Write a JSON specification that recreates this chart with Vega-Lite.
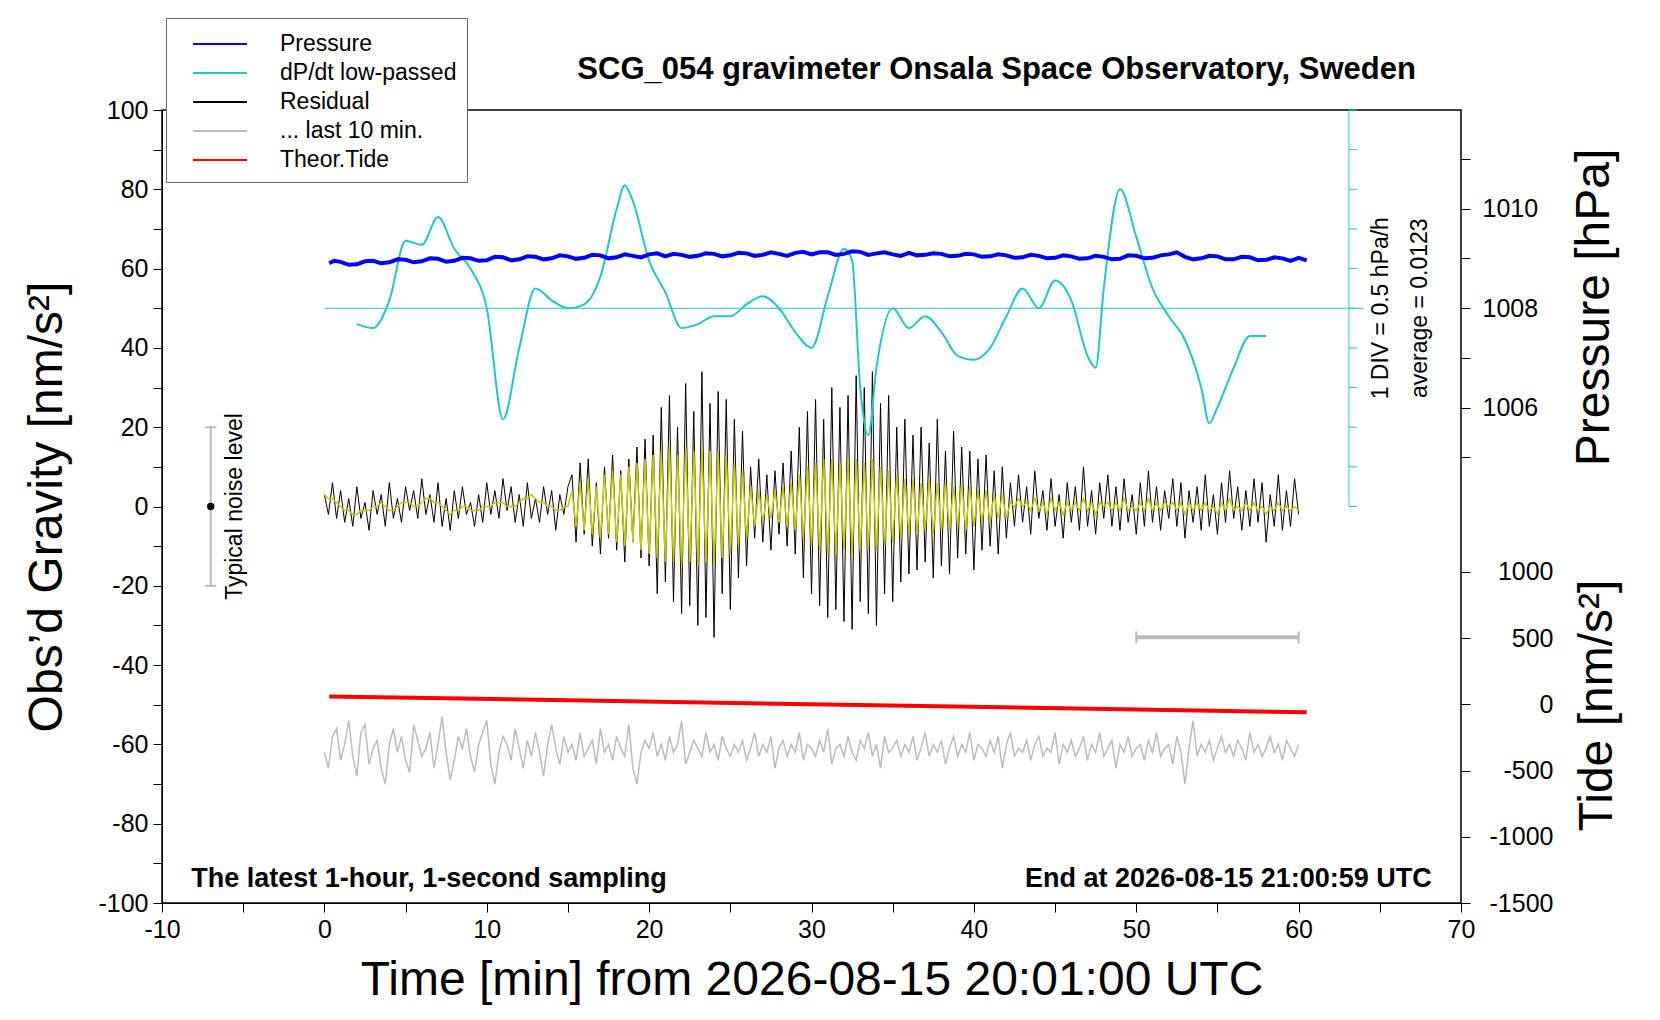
{
  "$schema": "https://vega.github.io/schema/vega-lite/v6.json",
  "autosize": "none",
  "width": 1299,
  "height": 793,
  "padding": {"left": 162, "top": 110, "right": 199, "bottom": 117},
  "background": "white",
  "config": {
    "font": "Liberation Sans",
    "view": {"stroke": "black", "strokeWidth": 1.5},
    "axis": {"grid": false, "labelFlush": false, "labelFontSize": 25, "labelColor": "black", "titleColor": "black", "titleFontWeight": "normal", "titleFontSize": 48, "domainColor": "black", "tickColor": "black", "tickSize": 9, "labelPadding": 5},
    "legend": {"orient": "none", "legendX": 4, "legendY": -92, "fillColor": "white", "strokeColor": "#666", "padding": 10, "symbolOffset": 28, "labelFontSize": 23, "labelColor": "black", "symbolType": "M-1.8,0H1.8", "symbolSize": 900, "symbolStrokeWidth": 2, "rowPadding": 1, "labelOffset": 44, "labelLimit": 400}
  },
  "datasets": {
    "main": [
      {"t":0,"r":3,"f":3,"g":-62},{"t":0.25,"r":-2,"f":2,"g":-66},{"t":0.5,"r":6,"f":2,"g":-58},{"t":0.75,"r":-3,"f":1,"g":-56},
      {"t":1,"r":4,"f":0,"g":-64},{"t":1.25,"r":-4,"f":-1,"g":-60},{"t":1.5,"r":2,"f":-1,"g":-54},{"t":1.75,"r":-5,"f":-2,"g":-63},
      {"t":2,"r":5,"f":-2,"g":-68},{"t":2.25,"r":-3,"f":-1,"g":-57},{"t":2.5,"r":1,"f":-1,"g":-55},{"t":2.75,"r":-6,"f":-1,"g":-65},
      {"t":3,"r":4,"f":0,"g":-61},{"t":3.25,"r":-2,"f":0,"g":-59},{"t":3.5,"r":3,"f":1,"g":-66},{"t":3.75,"r":-5,"f":0,"g":-70},
      {"t":4,"r":6,"f":-1,"g":-60},{"t":4.25,"r":-3,"f":-1,"g":-56},{"t":4.5,"r":2,"f":0,"g":-62},{"t":4.75,"r":-4,"f":1,"g":-58},
      {"t":5,"r":5,"f":1,"g":-64},{"t":5.25,"r":-1,"f":1,"g":-67},{"t":5.5,"r":4,"f":0,"g":-55},{"t":5.75,"r":-3,"f":0,"g":-59},
      {"t":6,"r":7,"f":1,"g":-63},{"t":6.25,"r":-2,"f":2,"g":-61},{"t":6.5,"r":3,"f":2,"g":-57},{"t":6.75,"r":-4,"f":1,"g":-66},
      {"t":7,"r":6,"f":1,"g":-60},{"t":7.25,"r":-5,"f":0,"g":-53},{"t":7.5,"r":2,"f":-1,"g":-62},{"t":7.75,"r":-6,"f":-2,"g":-69},
      {"t":8,"r":4,"f":-1,"g":-64},{"t":8.25,"r":-3,"f":-1,"g":-58},{"t":8.5,"r":5,"f":0,"g":-61},{"t":8.75,"r":-2,"f":0,"g":-56},
      {"t":9,"r":1,"f":-1,"g":-63},{"t":9.25,"r":-5,"f":-1,"g":-67},{"t":9.5,"r":3,"f":-1,"g":-60},{"t":9.75,"r":-4,"f":0,"g":-57},
      {"t":10,"r":6,"f":0,"g":-54},{"t":10.25,"r":-2,"f":0,"g":-65},{"t":10.5,"r":4,"f":1,"g":-70},{"t":10.75,"r":-3,"f":1,"g":-62},
      {"t":11,"r":7,"f":1,"g":-58},{"t":11.25,"r":-1,"f":0,"g":-60},{"t":11.5,"r":5,"f":0,"g":-64},{"t":11.75,"r":-4,"f":0,"g":-56},
      {"t":12,"r":3,"f":1,"g":-61},{"t":12.25,"r":-5,"f":2,"g":-66},{"t":12.5,"r":6,"f":2,"g":-59},{"t":12.75,"r":-3,"f":3,"g":-63},
      {"t":13,"r":2,"f":2,"g":-57},{"t":13.25,"r":-4,"f":1,"g":-62},{"t":13.5,"r":5,"f":1,"g":-68},{"t":13.75,"r":-2,"f":0,"g":-60},
      {"t":14,"r":4,"f":0,"g":-55},{"t":14.25,"r":-6,"f":-1,"g":-61},{"t":14.5,"r":3,"f":-1,"g":-65},{"t":14.75,"r":-2,"f":0,"g":-58},
      {"t":15,"r":5,"f":0,"g":-62},
      {"t":15.25,"r":8,"f":4,"g":-60},{"t":15.5,"r":-9,"f":-5,"g":-64},{"t":15.75,"r":11,"f":6,"g":-57},{"t":16,"r":-7,"f":-6,"g":-63},
      {"t":16.25,"r":12,"f":7,"g":-61},{"t":16.5,"r":-10,"f":-7,"g":-59},{"t":16.75,"r":6,"f":5,"g":-65},{"t":17,"r":-12,"f":-8,"g":-56},
      {"t":17.25,"r":10,"f":8,"g":-62},{"t":17.5,"r":-8,"f":-7,"g":-60},{"t":17.75,"r":13,"f":9,"g":-64},{"t":18,"r":-11,"f":-9,"g":-58},
      {"t":18.25,"r":9,"f":8,"g":-61},{"t":18.5,"r":-14,"f":-10,"g":-63},{"t":18.75,"r":12,"f":10,"g":-55},{"t":19,"r":-9,"f":-9,"g":-66},
      {"t":19.25,"r":15,"f":11,"g":-70},{"t":19.5,"r":-13,"f":-11,"g":-62},{"t":19.75,"r":17,"f":12,"g":-59},{"t":20,"r":-15,"f":-12,"g":-61},
      {"t":20.25,"r":18,"f":13,"g":-57},{"t":20.5,"r":-22,"f":-13,"g":-63},{"t":20.75,"r":25,"f":14,"g":-60},{"t":21,"r":-19,"f":-14,"g":-64},
      {"t":21.25,"r":28,"f":15,"g":-58},{"t":21.5,"r":-24,"f":-14,"g":-62},{"t":21.75,"r":20,"f":13,"g":-60},{"t":22,"r":-27,"f":-15,"g":-54},
      {"t":22.25,"r":31,"f":15,"g":-65},{"t":22.5,"r":-25,"f":-14,"g":-62},{"t":22.75,"r":24,"f":14,"g":-59},{"t":23,"r":-30,"f":-15,"g":-61},
      {"t":23.25,"r":34,"f":15,"g":-63},{"t":23.5,"r":-28,"f":-14,"g":-57},{"t":23.75,"r":26,"f":14,"g":-62},{"t":24,"r":-33,"f":-15,"g":-60},
      {"t":24.25,"r":29,"f":14,"g":-64},{"t":24.5,"r":-22,"f":-13,"g":-58},{"t":24.75,"r":27,"f":13,"g":-61},{"t":25,"r":-26,"f":-12,"g":-63},
      {"t":25.25,"r":22,"f":11,"g":-60},{"t":25.5,"r":-18,"f":-10,"g":-62},{"t":25.75,"r":19,"f":9,"g":-59},{"t":26,"r":-15,"f":-8,"g":-64},
      {"t":26.25,"r":10,"f":5,"g":-61},{"t":26.5,"r":-8,"f":-5,"g":-57},{"t":26.75,"r":12,"f":4,"g":-63},{"t":27,"r":-9,"f":-4,"g":-60},
      {"t":27.25,"r":8,"f":3,"g":-62},{"t":27.5,"r":-11,"f":-3,"g":-58},{"t":27.75,"r":9,"f":4,"g":-66},{"t":28,"r":-7,"f":-4,"g":-61},
      {"t":28.25,"r":11,"f":5,"g":-59},{"t":28.5,"r":-10,"f":-5,"g":-63},{"t":28.75,"r":14,"f":6,"g":-60},{"t":29,"r":-12,"f":-6,"g":-62},
      {"t":29.25,"r":20,"f":8,"g":-57},{"t":29.5,"r":-18,"f":-8,"g":-64},{"t":29.75,"r":24,"f":10,"g":-60},{"t":30,"r":-22,"f":-10,"g":-61},
      {"t":30.25,"r":27,"f":11,"g":-63},{"t":30.5,"r":-25,"f":-11,"g":-59},{"t":30.75,"r":22,"f":12,"g":-62},{"t":31,"r":-28,"f":-12,"g":-56},
      {"t":31.25,"r":30,"f":12,"g":-65},{"t":31.5,"r":-26,"f":-12,"g":-61},{"t":31.75,"r":25,"f":11,"g":-60},{"t":32,"r":-29,"f":-11,"g":-63},
      {"t":32.25,"r":28,"f":12,"g":-58},{"t":32.5,"r":-31,"f":-12,"g":-62},{"t":32.75,"r":33,"f":12,"g":-64},{"t":33,"r":-24,"f":-11,"g":-59},
      {"t":33.25,"r":30,"f":11,"g":-61},{"t":33.5,"r":-27,"f":-11,"g":-57},{"t":33.75,"r":34,"f":12,"g":-63},{"t":34,"r":-30,"f":-11,"g":-60},
      {"t":34.25,"r":26,"f":10,"g":-66},{"t":34.5,"r":-22,"f":-10,"g":-58},{"t":34.75,"r":28,"f":9,"g":-62},{"t":35,"r":-24,"f":-9,"g":-61},
      {"t":35.25,"r":20,"f":8,"g":-59},{"t":35.5,"r":-19,"f":-8,"g":-63},{"t":35.75,"r":22,"f":7,"g":-60},{"t":36,"r":-17,"f":-7,"g":-62},
      {"t":36.25,"r":18,"f":7,"g":-58},{"t":36.5,"r":-16,"f":-7,"g":-64},{"t":36.75,"r":20,"f":6,"g":-61},{"t":37,"r":-14,"f":-6,"g":-57},
      {"t":37.25,"r":16,"f":7,"g":-63},{"t":37.5,"r":-18,"f":-7,"g":-60},{"t":37.75,"r":22,"f":6,"g":-62},{"t":38,"r":-15,"f":-6,"g":-59},
      {"t":38.25,"r":14,"f":6,"g":-65},{"t":38.5,"r":-17,"f":-6,"g":-61},{"t":38.75,"r":19,"f":5,"g":-58},{"t":39,"r":-13,"f":-5,"g":-63},
      {"t":39.25,"r":15,"f":6,"g":-60},{"t":39.5,"r":-12,"f":-6,"g":-62},{"t":39.75,"r":14,"f":5,"g":-57},{"t":40,"r":-16,"f":-5,"g":-64},
      {"t":40.25,"r":12,"f":4,"g":-60},{"t":40.5,"r":-11,"f":-4,"g":-61},{"t":40.75,"r":13,"f":4,"g":-63},{"t":41,"r":-10,"f":-4,"g":-59},
      {"t":41.25,"r":9,"f":3,"g":-62},{"t":41.5,"r":-12,"f":-3,"g":-58},{"t":41.75,"r":10,"f":3,"g":-66},{"t":42,"r":-8,"f":-3,"g":-60},
      {"t":42.25,"r":6,"f":1,"g":-57},{"t":42.5,"r":-5,"f":0,"g":-63},{"t":42.75,"r":8,"f":2,"g":-61},{"t":43,"r":-4,"f":0,"g":-62},
      {"t":43.25,"r":5,"f":1,"g":-59},{"t":43.5,"r":-7,"f":-1,"g":-64},{"t":43.75,"r":9,"f":2,"g":-60},{"t":44,"r":-3,"f":-1,"g":-58},
      {"t":44.25,"r":4,"f":1,"g":-63},{"t":44.5,"r":-6,"f":-2,"g":-61},{"t":44.75,"r":7,"f":2,"g":-62},{"t":45,"r":-5,"f":-1,"g":-57},
      {"t":45.25,"r":3,"f":1,"g":-65},{"t":45.5,"r":-8,"f":-2,"g":-60},{"t":45.75,"r":6,"f":1,"g":-62},{"t":46,"r":-4,"f":-1,"g":-59},
      {"t":46.25,"r":5,"f":1,"g":-63},{"t":46.5,"r":-6,"f":-1,"g":-61},{"t":46.75,"r":10,"f":2,"g":-58},{"t":47,"r":-5,"f":-1,"g":-64},
      {"t":47.25,"r":4,"f":1,"g":-60},{"t":47.5,"r":-7,"f":-2,"g":-62},{"t":47.75,"r":6,"f":1,"g":-57},{"t":48,"r":-3,"f":0,"g":-63},
      {"t":48.25,"r":8,"f":1,"g":-61},{"t":48.5,"r":-5,"f":-1,"g":-59},{"t":48.75,"r":5,"f":1,"g":-66},{"t":49,"r":-6,"f":-1,"g":-60},
      {"t":49.25,"r":7,"f":2,"g":-62},{"t":49.5,"r":-4,"f":-1,"g":-58},{"t":49.75,"r":3,"f":0,"g":-63},{"t":50,"r":-7,"f":-1,"g":-61},
      {"t":50.25,"r":6,"f":1,"g":-60},{"t":50.5,"r":-5,"f":-1,"g":-64},{"t":50.75,"r":9,"f":2,"g":-59},{"t":51,"r":-4,"f":-1,"g":-62},
      {"t":51.25,"r":5,"f":1,"g":-57},{"t":51.5,"r":-6,"f":-1,"g":-63},{"t":51.75,"r":4,"f":1,"g":-61},{"t":52,"r":-3,"f":0,"g":-60},
      {"t":52.25,"r":7,"f":1,"g":-65},{"t":52.5,"r":-5,"f":-1,"g":-58},{"t":52.75,"r":6,"f":1,"g":-62},{"t":53,"r":-8,"f":-2,"g":-70},
      {"t":53.25,"r":4,"f":1,"g":-61},{"t":53.5,"r":-4,"f":-1,"g":-54},{"t":53.75,"r":5,"f":1,"g":-63},{"t":54,"r":-6,"f":-1,"g":-60},
      {"t":54.25,"r":8,"f":1,"g":-62},{"t":54.5,"r":-5,"f":-1,"g":-59},{"t":54.75,"r":3,"f":0,"g":-64},{"t":55,"r":-7,"f":-2,"g":-61},
      {"t":55.25,"r":6,"f":1,"g":-58},{"t":55.5,"r":-4,"f":-1,"g":-62},{"t":55.75,"r":9,"f":2,"g":-60},{"t":56,"r":-3,"f":-1,"g":-63},
      {"t":56.25,"r":5,"f":0,"g":-59},{"t":56.5,"r":-6,"f":-1,"g":-61},{"t":56.75,"r":4,"f":1,"g":-64},{"t":57,"r":-5,"f":-1,"g":-57},
      {"t":57.25,"r":7,"f":1,"g":-62},{"t":57.5,"r":-4,"f":-1,"g":-60},{"t":57.75,"r":6,"f":0,"g":-63},{"t":58,"r":-9,"f":-2,"g":-61},
      {"t":58.25,"r":3,"f":0,"g":-58},{"t":58.5,"r":-5,"f":-1,"g":-62},{"t":58.75,"r":8,"f":1,"g":-60},{"t":59,"r":-6,"f":-1,"g":-64},
      {"t":59.25,"r":4,"f":0,"g":-59},{"t":59.5,"r":-5,"f":-1,"g":-61},{"t":59.75,"r":7,"f":0,"g":-63},{"t":60,"r":-2,"f":-1,"g":-60}
    ],
    "dpdt": [
      {"t":2,"v":46},{"t":3,"v":45},{"t":4,"v":52},{"t":5,"v":67},{"t":6,"v":66},{"t":7,"v":73},{"t":8,"v":65},{"t":9,"v":60},
      {"t":10,"v":50},{"t":11,"v":22},{"t":12,"v":40},{"t":13,"v":55},{"t":14,"v":52},{"t":15,"v":50},{"t":16,"v":51},{"t":17,"v":58},
      {"t":18,"v":75},{"t":18.5,"v":81},{"t":19,"v":77},{"t":20,"v":62},{"t":21,"v":54},{"t":22,"v":45},{"t":23,"v":46},{"t":24,"v":48},
      {"t":25,"v":48},{"t":26,"v":51},{"t":27,"v":53},{"t":28,"v":50},{"t":29,"v":44},{"t":30,"v":40},{"t":31,"v":53},{"t":32,"v":65},
      {"t":32.5,"v":62},{"t":33,"v":30},{"t":33.5,"v":18},{"t":34,"v":35},{"t":35,"v":50},{"t":36,"v":45},{"t":37,"v":48},{"t":38,"v":44},
      {"t":39,"v":38},{"t":40,"v":37},{"t":41,"v":40},{"t":42,"v":48},{"t":43,"v":55},{"t":44,"v":50},{"t":45,"v":57},{"t":46,"v":52},
      {"t":47,"v":38},{"t":47.5,"v":35},{"t":48,"v":55},{"t":49,"v":80},{"t":50,"v":68},{"t":51,"v":55},{"t":52,"v":48},{"t":53,"v":42},
      {"t":54,"v":30},{"t":54.5,"v":21},{"t":55,"v":25},{"t":56,"v":35},{"t":57,"v":43},{"t":58,"v":43}
    ],
    "pressure": [
      {"t":0.3,"p":1008.9},{"t":0.6,"p":1008.95},{"t":1,"p":1008.93},{"t":1.5,"p":1008.87},{"t":2,"p":1008.88},{"t":2.5,"p":1008.94},{"t":3,"p":1008.95},{"t":3.5,"p":1008.9},{"t":4,"p":1008.92},{"t":4.5,"p":1008.98},{"t":5,"p":1008.97},
      {"t":5.5,"p":1008.92},{"t":6,"p":1008.94},{"t":6.5,"p":1009.0},{"t":7,"p":1008.99},{"t":7.5,"p":1008.93},{"t":8,"p":1008.95},{"t":8.5,"p":1009.01},{"t":9,"p":1009.0},{"t":9.5,"p":1008.95},{"t":10,"p":1008.96},{"t":10.5,"p":1009.03},{"t":11,"p":1009.02},
      {"t":11.5,"p":1008.96},{"t":12,"p":1008.98},{"t":12.5,"p":1009.04},{"t":13,"p":1009.03},{"t":13.5,"p":1008.98},{"t":14,"p":1009.0},{"t":14.5,"p":1009.06},{"t":15,"p":1009.04},{"t":15.5,"p":1008.99},{"t":16,"p":1009.01},{"t":16.5,"p":1009.07},{"t":17,"p":1009.06},
      {"t":17.5,"p":1009.0},{"t":18,"p":1009.02},{"t":18.5,"p":1009.08},{"t":19,"p":1009.05},{"t":19.5,"p":1009.02},{"t":20,"p":1009.08},{"t":20.5,"p":1009.1},{"t":21,"p":1009.04},{"t":21.5,"p":1009.09},{"t":22,"p":1009.07},{"t":22.5,"p":1009.03},{"t":23,"p":1009.05},
      {"t":23.5,"p":1009.1},{"t":24,"p":1009.09},{"t":24.5,"p":1009.04},{"t":25,"p":1009.06},{"t":25.5,"p":1009.11},{"t":26,"p":1009.1},{"t":26.5,"p":1009.05},{"t":27,"p":1009.07},{"t":27.5,"p":1009.12},{"t":28,"p":1009.09},{"t":28.5,"p":1009.05},{"t":29,"p":1009.11},
      {"t":29.5,"p":1009.13},{"t":30,"p":1009.08},{"t":30.5,"p":1009.12},{"t":31,"p":1009.12},{"t":31.5,"p":1009.07},{"t":32,"p":1009.09},{"t":32.5,"p":1009.14},{"t":33,"p":1009.13},{"t":33.5,"p":1009.07},{"t":34,"p":1009.1},{"t":34.5,"p":1009.12},{"t":35,"p":1009.08},
      {"t":35.5,"p":1009.05},{"t":36,"p":1009.11},{"t":36.5,"p":1009.06},{"t":37,"p":1009.07},{"t":37.5,"p":1009.1},{"t":38,"p":1009.09},{"t":38.5,"p":1009.04},{"t":39,"p":1009.05},{"t":39.5,"p":1009.09},{"t":40,"p":1009.08},{"t":40.5,"p":1009.03},{"t":41,"p":1009.04},
      {"t":41.5,"p":1009.08},{"t":42,"p":1009.06},{"t":42.5,"p":1009.01},{"t":43,"p":1009.02},{"t":43.5,"p":1009.07},{"t":44,"p":1009.05},{"t":44.5,"p":1009.0},{"t":45,"p":1009.01},{"t":45.5,"p":1009.06},{"t":46,"p":1009.04},{"t":46.5,"p":1008.99},{"t":47,"p":1009.0},
      {"t":47.5,"p":1009.05},{"t":48,"p":1009.03},{"t":48.5,"p":1008.98},{"t":49,"p":1008.99},{"t":49.5,"p":1009.06},{"t":50,"p":1009.05},{"t":50.5,"p":1009.0},{"t":51,"p":1009.01},{"t":51.5,"p":1009.06},{"t":52,"p":1009.08},{"t":52.5,"p":1009.12},{"t":53,"p":1009.03},
      {"t":53.5,"p":1008.98},{"t":54,"p":1009.0},{"t":54.5,"p":1009.05},{"t":55,"p":1009.04},{"t":55.5,"p":1008.98},{"t":56,"p":1008.98},{"t":56.5,"p":1009.03},{"t":57,"p":1009.02},{"t":57.5,"p":1008.96},{"t":58,"p":1008.97},{"t":58.5,"p":1009.02},{"t":59,"p":1009.0},
      {"t":59.5,"p":1008.95},{"t":60,"p":1009.01},{"t":60.5,"p":1008.96}
    ],
    "tide": [{"t":0.3,"tide":60},{"t":60.5,"tide":-60}]
  },
  "encoding": {
    "x": {
      "field": "t", "type": "quantitative",
      "scale": {"domain": [-10, 70], "nice": false, "zero": false},
      "axis": {
        "values": [-10,-5,0,5,10,15,20,25,30,35,40,45,50,55,60,65,70],
        "labelExpr": "datum.value % 10 == 0 ? '' + datum.value : ''",
        "title": "Time [min] from 2026-08-15 20:01:00 UTC",
        "titlePadding": 14
      }
    }
  },
  "layer": [
    {
      "encoding": {
        "y": {
          "field": "v", "type": "quantitative",
          "scale": {"domain": [-100, 100], "nice": false, "zero": false},
          "axis": {
            "values": [-100,-90,-80,-70,-60,-50,-40,-30,-20,-10,0,10,20,30,40,50,60,70,80,90,100],
            "labelExpr": "datum.value % 20 == 0 ? '' + datum.value : ''",
            "title": "Obs’d Gravity [nm/s²]",
            "titlePadding": 26
          }
        }
      },
      "layer": [
        {
          "data": {"name": "main"},
          "transform": [{"fold": ["r", "f", "g"], "as": ["k", "v"]}, {"filter": "datum.k == 'g'"}],
          "mark": {"type": "line", "strokeWidth": 1.5},
          "encoding": {"color": {"datum": "... last 10 min.", "type": "nominal", "scale": {"domain": ["Pressure", "dP/dt low-passed", "Residual", "... last 10 min.", "Theor.Tide"], "range": ["#0000ff", "#1ec8c8", "black", "#bbbbbb", "#ff0000"]}, "legend": {"title": null}}}
        },
        {
          "data": {"name": "main"},
          "transform": [{"fold": ["r", "f", "g"], "as": ["k", "v"]}, {"filter": "datum.k == 'r'"}],
          "mark": {"type": "line", "strokeWidth": 1},
          "encoding": {"color": {"datum": "Residual", "type": "nominal"}}
        },
        {
          "data": {"name": "main"},
          "transform": [{"fold": ["r", "f", "g"], "as": ["k", "v"]}, {"filter": "datum.k == 'f'"}],
          "mark": {"type": "line", "strokeWidth": 1.5, "color": "#c8c800"},
          "encoding": {}
        },
        {
          "data": {"values": [{"t": 0, "t2": 64, "v": 50}]},
          "mark": {"type": "rule", "color": "#1ec8c8", "strokeWidth": 1},
          "encoding": {"x2": {"field": "t2"}}
        },
        {
          "data": {"values": [{"t": 63.1, "v": 0, "v2": 100}]},
          "mark": {"type": "rule", "color": "#1ec8c8", "strokeWidth": 1},
          "encoding": {"y2": {"field": "v2"}}
        },
        {
          "data": {"values": [
            {"t":63.1,"t2":63.6,"v":0},{"t":63.1,"t2":63.6,"v":10},{"t":63.1,"t2":63.6,"v":20},{"t":63.1,"t2":63.6,"v":30},
            {"t":63.1,"t2":63.6,"v":40},{"t":63.1,"t2":63.6,"v":50},{"t":63.1,"t2":63.6,"v":60},{"t":63.1,"t2":63.6,"v":70},
            {"t":63.1,"t2":63.6,"v":80},{"t":63.1,"t2":63.6,"v":90},{"t":63.1,"t2":63.6,"v":100}
          ]},
          "mark": {"type": "rule", "color": "#1ec8c8", "strokeWidth": 1},
          "encoding": {"x2": {"field": "t2"}}
        },
        {
          "data": {"name": "dpdt"},
          "mark": {"type": "line", "strokeWidth": 2, "interpolate": "monotone"},
          "encoding": {"color": {"datum": "dP/dt low-passed", "type": "nominal"}}
        },
        {
          "data": {"values": [{"t": -7, "v": -20, "v2": 20}]},
          "mark": {"type": "rule", "color": "#bbbbbb", "strokeWidth": 2},
          "encoding": {"y2": {"field": "v2"}}
        },
        {
          "data": {"values": [{"t": -7.35, "t2": -6.65, "v": -20}, {"t": -7.35, "t2": -6.65, "v": 20}]},
          "mark": {"type": "rule", "color": "#bbbbbb", "strokeWidth": 2},
          "encoding": {"x2": {"field": "t2"}}
        },
        {
          "data": {"values": [{"t": 50, "v": -34.5, "v2": -31.5}, {"t": 60, "v": -34.5, "v2": -31.5}]},
          "mark": {"type": "rule", "color": "#bbbbbb", "strokeWidth": 2},
          "encoding": {"y2": {"field": "v2"}}
        },
        {
          "data": {"values": [{"t": 50, "t2": 60, "v": -33}]},
          "mark": {"type": "rule", "color": "#bbbbbb", "strokeWidth": 4},
          "encoding": {"x2": {"field": "t2"}}
        },
        {
          "data": {"values": [{"t": -7, "v": 0}]},
          "mark": {"type": "circle", "color": "black", "size": 55, "opacity": 1},
          "encoding": {}
        },
        {
          "data": {"values": [{"t": -5.5, "v": 0, "txt": "Typical noise level"}]},
          "mark": {"type": "text", "angle": 270, "fontSize": 23, "align": "center", "baseline": "middle", "color": "black"},
          "encoding": {"text": {"field": "txt"}}
        },
        {
          "data": {"values": [
            {"t": 65.1, "v": 50, "txt": "1 DIV = 0.5 hPa/h"},
            {"t": 67.5, "v": 50, "txt": "average = 0.0123"}
          ]},
          "mark": {"type": "text", "angle": 270, "fontSize": 23, "align": "center", "baseline": "middle", "color": "black"},
          "encoding": {"text": {"field": "txt"}}
        },
        {
          "data": {"values": [{"t": -8.2, "v": -94, "txt": "The latest 1-hour, 1-second sampling"}]},
          "mark": {"type": "text", "fontSize": 27, "fontWeight": "bold", "align": "left", "baseline": "middle", "color": "black"},
          "encoding": {"text": {"field": "txt"}}
        },
        {
          "data": {"values": [{"t": 68.2, "v": -94, "txt": "End at 2026-08-15 21:00:59 UTC"}]},
          "mark": {"type": "text", "fontSize": 27, "fontWeight": "bold", "align": "right", "baseline": "middle", "color": "black"},
          "encoding": {"text": {"field": "txt"}}
        },
        {
          "data": {"values": [{"t": 41.4, "v": 110, "txt": "SCG_054 gravimeter Onsala Space Observatory, Sweden"}]},
          "mark": {"type": "text", "fontSize": 31, "fontWeight": "bold", "align": "center", "baseline": "middle", "color": "black"},
          "encoding": {"text": {"field": "txt"}}
        }
      ]
    },
    {
      "data": {"name": "pressure"},
      "mark": {"type": "line", "strokeWidth": 4},
      "encoding": {
        "y": {
          "field": "p", "type": "quantitative",
          "scale": {"domain": [996.05, 1011.98], "nice": false, "zero": false},
          "axis": {
            "orient": "right",
            "values": [1005, 1006, 1007, 1008, 1009, 1010, 1011],
            "labelExpr": "datum.value % 2 == 0 ? '' + datum.value : ''",
            "title": "Pressure [hPa]",
            "labelPadding": 12,
            "titleAngle": 270, "titleAlign": "center", "titleBaseline": "middle",
            "titleX": 133, "titleY": 197, "domain": false
          }
        },
        "color": {"datum": "Pressure", "type": "nominal"}
      }
    },
    {
      "data": {"name": "tide"},
      "mark": {"type": "line", "strokeWidth": 4},
      "encoding": {
        "y": {
          "field": "tide", "type": "quantitative",
          "scale": {"domain": [-1500, 4488], "nice": false, "zero": false},
          "axis": {
            "orient": "right",
            "values": [-1500, -1000, -500, 0, 500, 1000],
            "labelExpr": "'' + datum.value",
            "labelAlign": "right",
            "labelPadding": 83,
            "title": "Tide [nm/s²]",
            "titleAngle": 270, "titleAlign": "center", "titleBaseline": "middle",
            "titleX": 136, "titleY": 595, "domain": false
          }
        },
        "color": {"datum": "Theor.Tide", "type": "nominal"}
      }
    }
  ],
  "resolve": {"scale": {"y": "independent"}}
}
